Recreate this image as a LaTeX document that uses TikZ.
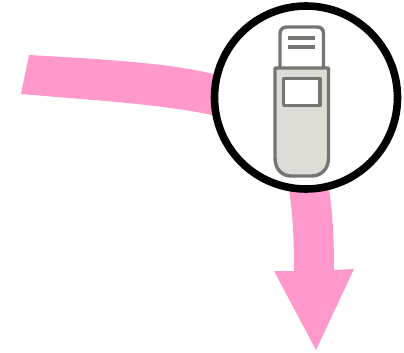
\documentclass[tikz,border=0pt]{standalone}
\definecolor{flowpink}{HTML}{FF99CC}
\definecolor{devgray}{HTML}{757572}
\definecolor{devfill}{HTML}{DDDCD7}
\tikzset{
  flow/.style={fill=flowpink,draw=none},
  ring/.style={draw=black,fill=white,line width=7.6pt},
  dev/.style={draw=devgray,line width=3.4pt,line join=round},
  devbar/.style={draw=devgray,line width=4pt},
}
\begin{document}
\begin{tikzpicture}[x=1pt,y=-1pt]
\useasboundingbox (0,0) rectangle (404,353);
% flow arrow
\path[flow] (29,55) .. controls (100,59) and (170,63) .. (213,74)
  -- (260,90) -- (289,190) .. controls (293,215) and (294,240) .. (294,271)
  -- (274,271) -- (316,350) -- (354,269) -- (334,270)
  .. controls (334,240) and (333,215) .. (329,190) -- (300,120) -- (212,115)
  .. controls (160,104) and (90,100) .. (21,94) -- cycle;
% ring
\draw[ring] (306,97.5) circle[radius=91.5];
% device
\draw[dev,fill=white] (280,68) -- (280,34) .. controls (280,29) and (283,27) .. (287,27)
  -- (317,27) .. controls (321,27) and (323.5,29) .. (323.5,34) -- (323.5,68);
\draw[dev,fill=devfill] (275,68) -- (328.5,68) -- (328.5,158)
  .. controls (328.5,169) and (321,176) .. (312,176) -- (291,176)
  .. controls (282,176) and (275,169) .. (275,158) -- cycle;
\draw[dev,fill=white] (283.5,78.5) rectangle (320,105.5);
\draw[devbar] (288,37.7) -- (315,37.7);
\draw[devbar] (288,46.7) -- (315,46.7);
\end{tikzpicture}
\end{document}
